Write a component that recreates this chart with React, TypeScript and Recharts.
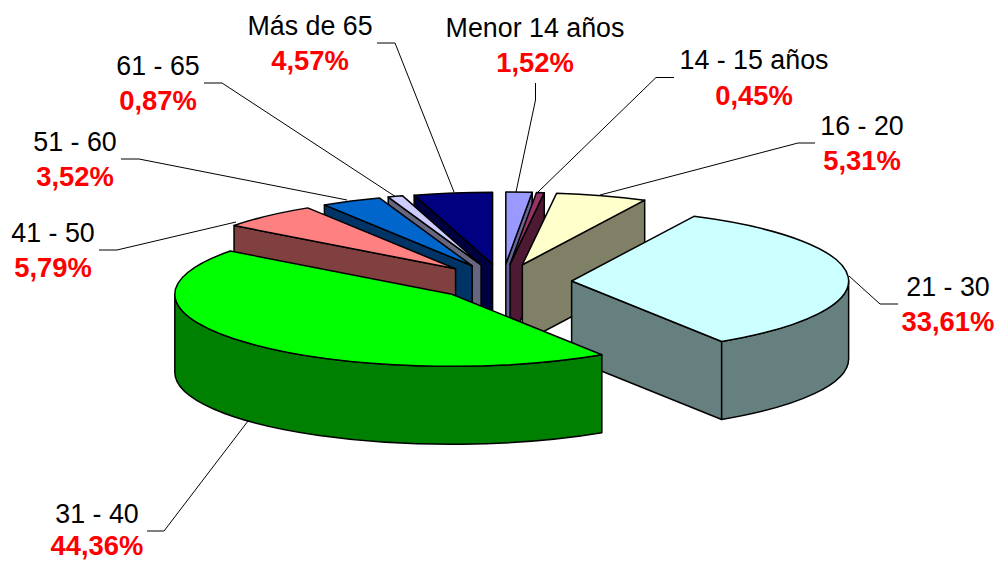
import React from 'react';
import { PieChart, Pie } from 'recharts';

const categories = ['Menor 14 años', '14 - 15 años', '16 - 20', '21 - 30', '31 - 40', '41 - 50', '51 - 60', '61 - 65', 'Más de 65'];
const shares = [1.52, 0.45, 5.31, 33.61, 44.36, 5.79, 3.52, 0.87, 4.57];

const topColors = ['#9999FF', '#993366', '#FFFFCC', '#CCFFFF', '#00FF00', '#FF8080', '#0066CC', '#CCCCFF', '#000080'];
const wallColors = ['#666699', '#4D1933', '#808066', '#668080', '#008000', '#804040', '#003366', '#666680', '#000040'];

// painter's order, back slices first so the front ones overlap them
const paintOrder = [8, 7, 6, 5, 0, 1, 2, 3, 4];

// [label centre x, name baseline, value baseline]
const labelSpots = [
  [535, 37, 72],
  [754, 69, 105],
  [862, 135, 170],
  [948, 296, 331],
  [97, 523, 555],
  [53, 242, 277],
  [75, 151, 186],
  [158, 75, 110],
  [310, 35, 70],
];

const leaders = [
  '535.5,83 535.5,100 516,192',
  '674,77.5 656,77.5 538,192',
  '815,143 798,143 600,195',
  '898,304 880,304 849,276',
  '147,531 164,531 248,421',
  '99,250 117,250 236,222',
  '121,159 139,159 347,200',
  '204,83 222,83 396,197',
  '377,43 395,43 454,192',
];

const WIDTH = 998;
const HEIGHT = 561;
const CX = 502.5;
const CY = 282;
const RADIUS = 277;
const TILT = 72 / 277;
const DEPTH = 78;
const EXPLODE = 0.25;
const FONT = '"Liberation Sans", Arial, sans-serif';

const data = categories.map((name, i) => ({ name, value: shares[i], idx: i }));

const Slice3D = (props: any) => {
  const { cx, cy, outerRadius, startAngle, endAngle, midAngle, payload, only } = props;
  const idx = payload.idx;
  if (idx !== only) return null;

  // recharts gives math degrees; turn into clockwise-from-top
  const from = 90 - startAngle;
  const to = 90 - endAngle;
  const mid = ((90 - midAngle) * Math.PI) / 180;
  const ax = cx + EXPLODE * outerRadius * Math.sin(mid);
  const ay = cy - EXPLODE * outerRadius * TILT * Math.cos(mid);
  const rx = outerRadius;
  const ry = outerRadius * TILT;
  const pt = (deg: number, drop = 0) => {
    const t = (deg * Math.PI) / 180;
    return [ax + rx * Math.sin(t), ay - ry * Math.cos(t) + drop];
  };
  const arc = (a: number, b: number, drop = 0, sweep = 1) => {
    const [x, y] = pt(b, drop);
    return `A${rx} ${ry} 0 ${Math.abs(b - a) > 180 ? 1 : 0} ${sweep} ${x} ${y}`;
  };
  const face = (deg: number) => {
    const [x, y] = pt(deg);
    return `M${ax} ${ay}L${x} ${y}L${x} ${y + DEPTH}L${ax} ${ay + DEPTH}Z`;
  };

  const walls: string[] = [];
  if (Math.sin((from * Math.PI) / 180) < -0.001) walls.push(face(from));
  if (Math.sin((to * Math.PI) / 180) > 0.001) walls.push(face(to));
  const rimFrom = Math.max(from, 90);
  const rimTo = Math.min(to, 270);
  if (rimTo > rimFrom) {
    const [x1, y1] = pt(rimFrom);
    const [x2, y2] = pt(rimTo);
    walls.push(`M${x1} ${y1}${arc(rimFrom, rimTo)}L${x2} ${y2 + DEPTH}${arc(rimTo, rimFrom, DEPTH, 0)}Z`);
  }
  const [sx, sy] = pt(from);
  const top = `M${ax} ${ay}L${sx} ${sy}${arc(from, to)}Z`;
  const [lx, nameY, valueY] = labelSpots[idx];

  return (
    <g>
      <polyline points={leaders[idx]} fill="none" stroke="#000" strokeWidth={1} />
      {walls.map((d, k) => (
        <path key={k} d={d} fill={wallColors[idx]} stroke="#000" strokeWidth={1.5} strokeLinejoin="round" />
      ))}
      <path d={top} fill={topColors[idx]} stroke="#000" strokeWidth={1.5} strokeLinejoin="round" />
      <text x={lx} y={nameY} textAnchor="middle" fontFamily={FONT} fontSize={26.8} fill="#000">
        {payload.name}
      </text>
      <text x={lx} y={valueY} textAnchor="middle" fontFamily={FONT} fontSize={27.4} fontWeight="bold" fill="#FF0000">
        {payload.value.toFixed(2).replace('.', ',')}%
      </text>
    </g>
  );
};

export default function App() {
  return (
    <div style={{ width: WIDTH, height: HEIGHT, position: 'absolute', left: 0, top: 0, background: '#fff' }}>
      <PieChart width={WIDTH} height={HEIGHT} margin={{ top: 0, right: 0, bottom: 0, left: 0 }}>
        {paintOrder.map((only) => (
          <Pie
            key={only}
            data={data}
            dataKey="value"
            nameKey="name"
            cx={CX}
            cy={CY}
            innerRadius={0}
            outerRadius={RADIUS}
            startAngle={90}
            endAngle={-270}
            stroke="none"
            isAnimationActive={false}
            shape={(p: any) => <Slice3D {...p} only={only} />}
          />
        ))}
      </PieChart>
    </div>
  );
}
